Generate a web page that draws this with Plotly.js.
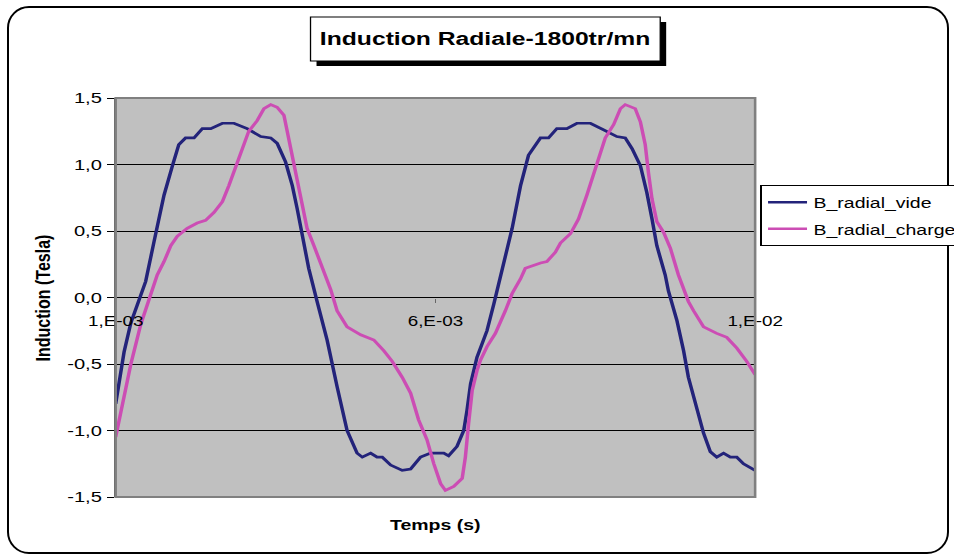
<!DOCTYPE html>
<html>
<head>
<meta charset="utf-8">
<script src="https://cdn.plot.ly/plotly-3.0.1.min.js"></script>
<style>
  html, body { margin: 0; padding: 0; background: #ffffff; }
  #wrap { position: absolute; left: 0; top: 0; width: 954px; height: 558px; overflow: hidden; }
  #frame { position: absolute; left: 7px; top: 6px; width: 938px; height: 544px;
           border: 2px solid #000; border-radius: 22px; background: #fff; }
  #chart { position: absolute; left: 0; top: 0; width: 734px; height: 558px;
           transform: scaleX(1.2997); transform-origin: 0 0; }
</style>
</head>
<body>
<div id="wrap">
  <div id="frame"></div>
  <div id="chart"></div>
</div>
<script>
// Sample position along the time axis (0 .. 160)
const tVide = [0, 2.1, 3.8, 5.4, 7.5, 9.6, 12.1, 14.2, 15.8, 17.5, 19.6, 21.7, 23.8, 26.7, 29.6, 32.9, 36.3, 38.8, 40.4, 42.5, 44.2, 45.4, 46.7, 48.3, 50.4, 52.9, 55.4, 57.9, 60.4, 61.7, 63.8, 65.4, 66.7, 68.8, 71.7, 73.8, 76.3, 78.8, 82.1, 83.3, 85.4, 87.1, 87.9, 88.8, 90.4, 92.9, 94.6, 96.7, 99.2, 101.3, 103.3, 106.3, 108.3, 110.4, 112.9, 115.4, 118.8, 122.1, 125.4, 127.5, 129.2, 131.3, 132.9, 134.2, 135.4, 137.5, 138.3, 140.4, 142.1, 143.3, 145.4, 147.1, 148.8, 150.4, 152.1, 153.8, 155.4, 157.1, 160];
const bVide = [-0.80, -0.41, -0.19, -0.06, 0.12, 0.42, 0.77, 0.99, 1.15, 1.20, 1.20, 1.27, 1.27, 1.31, 1.31, 1.27, 1.21, 1.20, 1.16, 1.02, 0.84, 0.67, 0.47, 0.22, -0.03, -0.32, -0.67, -1.00, -1.17, -1.20, -1.17, -1.20, -1.20, -1.26, -1.30, -1.29, -1.20, -1.17, -1.17, -1.19, -1.12, -1.00, -0.85, -0.65, -0.45, -0.25, -0.05, 0.22, 0.52, 0.84, 1.07, 1.20, 1.20, 1.27, 1.27, 1.31, 1.31, 1.26, 1.21, 1.20, 1.12, 0.99, 0.79, 0.59, 0.39, 0.17, 0.05, -0.17, -0.40, -0.60, -0.82, -1.02, -1.16, -1.20, -1.17, -1.20, -1.20, -1.25, -1.30];

const tCharge = [0, 1.3, 3.8, 6.3, 7.9, 8.8, 10.4, 12.1, 13.8, 15.4, 17.9, 20.4, 22.5, 24.6, 26.7, 28.3, 30.0, 31.7, 33.3, 35.4, 37.1, 38.8, 40.4, 42.1, 42.9, 44.2, 45.4, 46.7, 47.9, 49.6, 52.1, 53.8, 55.4, 57.9, 61.3, 64.6, 67.1, 69.2, 71.7, 73.8, 75.8, 77.9, 79.6, 81.3, 82.5, 84.6, 86.7, 87.5, 88.3, 89.2, 90.4, 91.3, 92.9, 95.0, 97.5, 99.2, 101.3, 102.5, 106.3, 107.9, 110.0, 111.3, 113.8, 115.8, 117.9, 120.0, 121.3, 122.5, 124.6, 126.3, 127.5, 130.0, 131.3, 132.5, 133.3, 134.2, 135.4, 137.1, 138.8, 140.8, 143.3, 144.6, 147.1, 150.4, 152.9, 155.4, 157.9, 160];
const bCharge = [-1.05, -0.87, -0.50, -0.20, -0.06, 0.03, 0.17, 0.27, 0.39, 0.46, 0.52, 0.56, 0.58, 0.64, 0.72, 0.84, 0.98, 1.12, 1.25, 1.33, 1.42, 1.45, 1.43, 1.37, 1.25, 1.05, 0.87, 0.67, 0.52, 0.39, 0.19, 0.06, -0.10, -0.22, -0.28, -0.32, -0.40, -0.48, -0.60, -0.72, -0.92, -1.07, -1.25, -1.40, -1.45, -1.42, -1.36, -1.20, -0.95, -0.70, -0.55, -0.47, -0.37, -0.27, -0.10, 0.03, 0.14, 0.22, 0.26, 0.27, 0.34, 0.41, 0.48, 0.59, 0.77, 0.97, 1.09, 1.20, 1.30, 1.42, 1.45, 1.42, 1.32, 1.15, 0.94, 0.74, 0.57, 0.49, 0.37, 0.17, -0.03, -0.10, -0.22, -0.27, -0.30, -0.38, -0.48, -0.58];

const xTickVals = [0, 80, 160];
const xTickText = ['1,E-03', '6,E-03', '1,E-02'];
const yTickVals = [-1.5, -1.0, -0.5, 0.0, 0.5, 1.0, 1.5];
const yTickText = ['-1,5', '-1,0', '-0,5', '0,0', '0,5', '1,0', '1,5'];

const seriesNames = ['B_radial_vide', 'B_radial_charge'];
const chartTitle = 'Induction Radiale-1800tr/mn';
const xTitle = 'Temps (s)';
const yTitle = 'Induction (Tesla)';

const FONT = 'Liberation Sans, Arial, sans-serif';

const traces = [
  { x: tVide, y: bVide, name: seriesNames[0], type: 'scatter', mode: 'lines',
    legendgroup: 'a', line: { color: '#23237a', width: 2.7 } },
  { x: tCharge, y: bCharge, name: seriesNames[1], type: 'scatter', mode: 'lines',
    legendgroup: 'b', line: { color: '#cc4db4', width: 2.7 } }
];

const layout = {
  width: 734, height: 558,
  paper_bgcolor: 'rgba(0,0,0,0)',
  plot_bgcolor: '#c0c0c0',
  margin: { l: 88.5, r: 153.1, t: 98, b: 61, autoexpand: false },
  font: { family: FONT, color: '#000' },
  showlegend: true,
  legend: {
    x: 1.008, y: 0.782, xanchor: 'left', yanchor: 'top',
    bgcolor: '#fff', bordercolor: '#000', borderwidth: 1,
    font: { family: FONT, size: 15, color: '#000' },
    traceorder: 'grouped', tracegroupgap: 4
  },
  xaxis: {
    range: [0, 160], showgrid: false, zeroline: false, showline: false,
    anchor: 'free', position: 0.5,
    tickmode: 'array', tickvals: xTickVals, ticktext: xTickText,
    ticks: 'outside', ticklen: 4, tickwidth: 1, tickcolor: '#666',
    ticklabelstandoff: 6,
    tickfont: { family: FONT, size: 14.5, color: '#000' }
  },
  yaxis: {
    range: [-1.5, 1.5], showgrid: true, gridcolor: '#000', gridwidth: 1,
    zeroline: false, showline: true, linecolor: '#555', linewidth: 1.5,
    tickmode: 'array', tickvals: yTickVals, ticktext: yTickText,
    ticks: 'outside', ticklen: 5, tickwidth: 1, tickcolor: '#000',
    ticklabelstandoff: 1,
    tickfont: { family: FONT, size: 15.5, color: '#000' }
  },
  shapes: [
    { type: 'rect', xref: 'paper', yref: 'paper', x0: 0, x1: 1, y0: 0, y1: 1,
      line: { color: '#808080', width: 2 }, layer: 'above' },
    { type: 'rect', xref: 'paper', yref: 'paper', x0: 0.3141, x1: 0.8609, y0: 1.0802, y1: 1.1905,
      line: { width: 0 }, fillcolor: '#000' },
    { type: 'rect', xref: 'paper', yref: 'paper', x0: 0.3047, x1: 0.8516, y0: 1.0927, y1: 1.2030,
      line: { color: '#000', width: 1 }, fillcolor: '#fff' }
  ],
  annotations: [
    { text: '<b>' + chartTitle + '</b>', xref: 'paper', yref: 'paper', x: 0.578, y: 1.148,
      showarrow: false, xanchor: 'center', yanchor: 'middle',
      font: { family: FONT, size: 19, color: '#000' } },
    { text: '<b>' + xTitle + '</b>', xref: 'paper', yref: 'paper', x: 0.5, y: -0.068,
      showarrow: false, xanchor: 'center', yanchor: 'middle',
      font: { family: FONT, size: 15, color: '#000' } },
    { text: '<b>' + yTitle + '</b>', xref: 'paper', yref: 'paper', x: -0.114, y: 0.5,
      showarrow: false, xanchor: 'center', yanchor: 'middle', textangle: -90,
      font: { family: FONT, size: 16, color: '#000' } }
  ]
};

Plotly.newPlot('chart', traces, layout, { displayModeBar: false, staticPlot: true });
</script>
</body>
</html>
